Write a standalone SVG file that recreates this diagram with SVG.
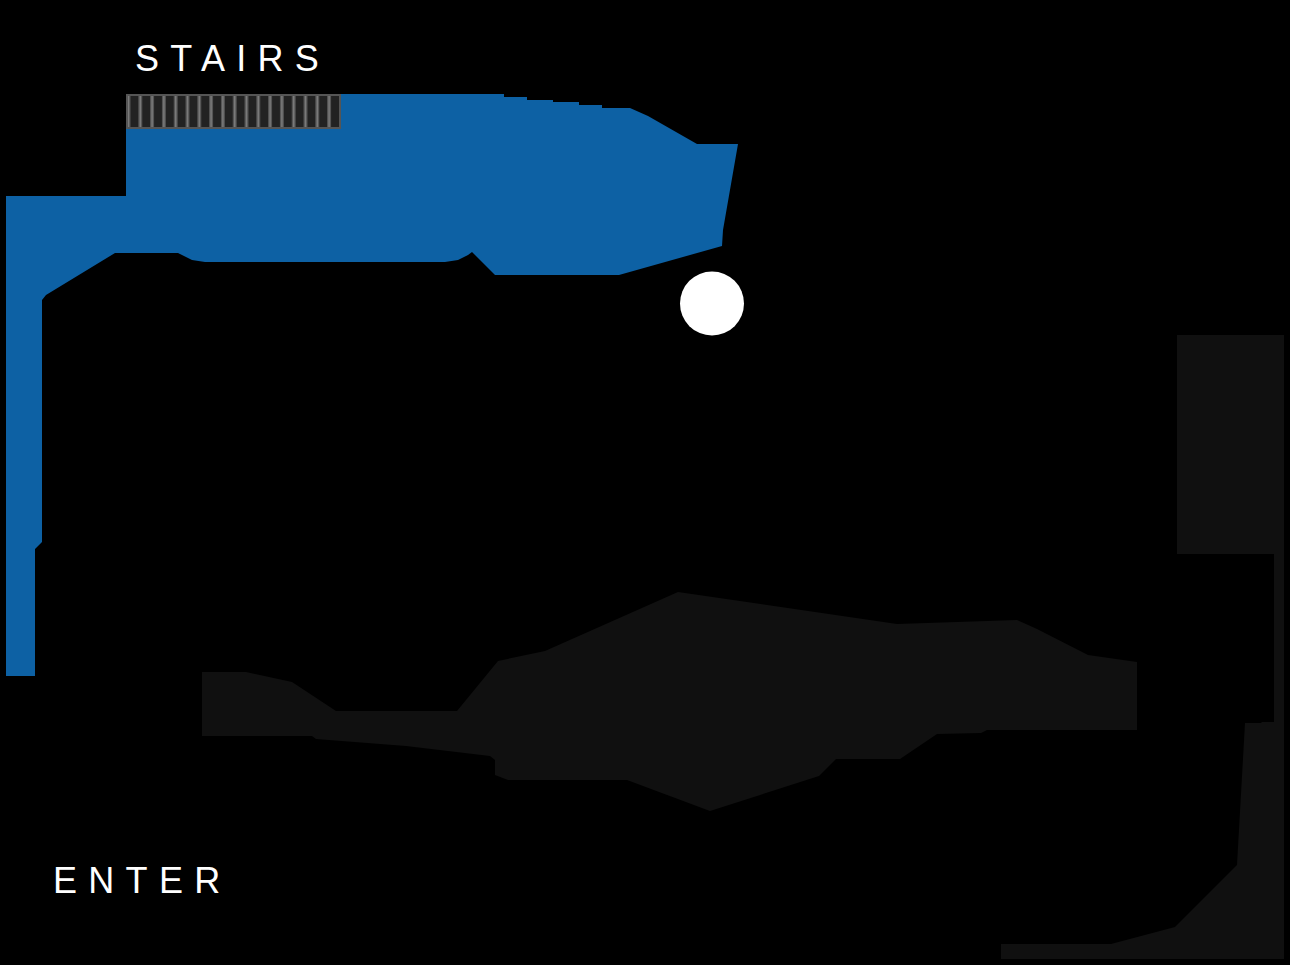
<svg xmlns="http://www.w3.org/2000/svg" width="1290" height="965" viewBox="0 0 1290 965">
<style>
.label{font-family:"Liberation Sans",Arial,sans-serif;font-size:36px;letter-spacing:11.3px;fill:#fff}
.dark{fill:#101010}
.slat{stroke:#555;stroke-width:4;fill:none}
.slat-core{stroke:#7a7a7a;stroke-width:1.500;fill:none}
</style>
<defs>
<path id="slats" d="M128.500 96V128M140.300 96V128M152.100 96V128M163.900 96V128M175.700 96V128M187.500 96V128M199.300 96V128M211.100 96V128M222.900 96V128M234.700 96V128M246.500 96V128M258.300 96V128M270.100 96V128M281.900 96V128M293.700 96V128M305.500 96V128M317.300 96V128M329.100 96V128"/>
</defs>
<rect id="background" width="1290" height="965" fill="#000"/>
<polygon id="blue-zone" fill="#0d61a4" points="126,94 504,94 504,97 527,97 527,100 553,100 553,102 579,102 579,105 602,105 602,108 630,108 648,116 697,144 738,144 723,230 722,246 619,275 495,275 472,252 468,255 458,260 445,262 205,262 192,260 178,253 115,253 46,295 42,300 42,542 35,549 35,676 6,676 6,196 126,196"/>
<polygon id="dark-zone-middle" class="dark" points="202,672 246,672 292,682 336,711 457,711 498,661 545,651 678,592 897,624 1017,620 1037,629 1088,655 1137,662 1137,730 987,730 981,733 937,734 900,759 836,759 819,776 710,811 627,780 508,780 495,775 495,760 490,756 406,746 316,739 312,736 202,736"/>
<polygon id="dark-zone-right" class="dark" points="1177,335 1284,335 1284,959 1001,959 1001,944 1111,944 1175,927 1237,865 1245,723 1261,723 1262,722 1274,722 1274,554 1177,554"/>
<g id="stairs">
<rect x="127" y="95" width="213" height="33" fill="#222"/>
<use href="#slats" class="slat"/>
<use href="#slats" class="slat-core"/>
<rect x="127" y="95" width="213" height="33" fill="none" stroke="#555" stroke-width="2"/>
</g>
<circle id="marker" cx="712" cy="303.500" r="32" fill="#fff"/>
<text id="stairs-label" class="label" x="135" y="71">STAIRS</text>
<text id="enter-label" class="label" x="53" y="893">ENTER</text>
<g id="connectors"/>
</svg>
